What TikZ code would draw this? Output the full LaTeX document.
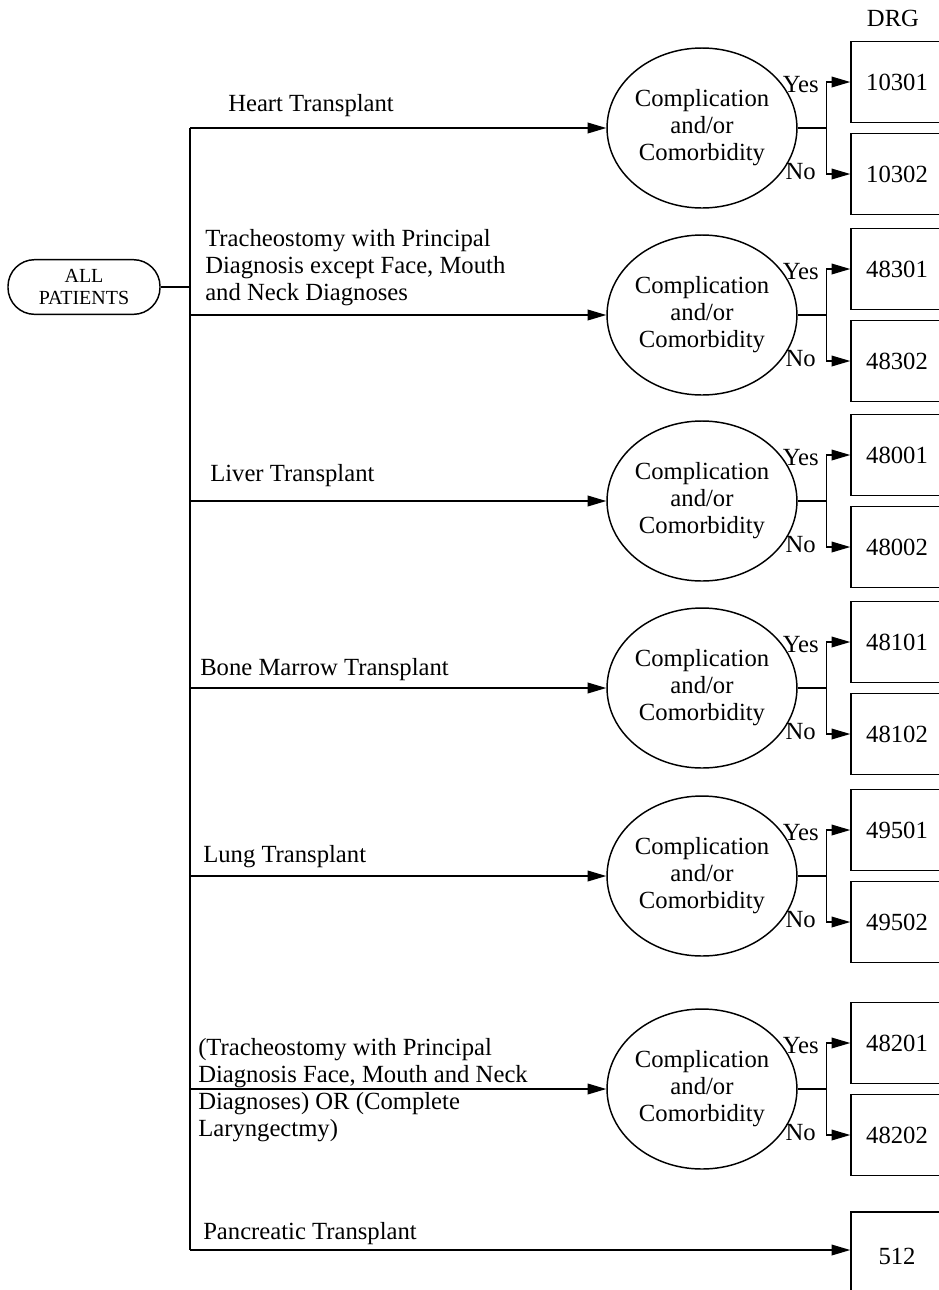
\documentclass[tikz,border=0pt]{standalone}
\usepackage{fontspec}
\setmainfont{Liberation Serif}
\usetikzlibrary{arrows.meta,shapes.geometric}

\tikzset{
  lbl/.style={font=\fontsize{18.5}{20.25}\selectfont, align=left, inner sep=0pt, anchor=west},
  cc/.style={draw, ellipse, line width=1.1pt, minimum width=136pt, minimum height=120pt,
             inner sep=0pt, align=center, font=\fontsize{18.5}{20.25}\selectfont},
  drg/.style={draw, rectangle, line width=1.1pt, minimum width=69pt, minimum height=60.75pt,
              inner sep=0pt, font=\fontsize{18.5}{20.25}\selectfont},
  wire/.style={line width=1.1pt},
  arr/.style={wire, -{Triangle[length=14pt,width=8pt]}}
}

\begin{document}
\begin{tikzpicture}[x=0.75pt, y=-0.75pt]

  \useasboundingbox (0,0) rectangle (939,1290);

  % ============================================================
  % Root and trunk
  % ============================================================
  \node[draw, line width=1.1pt, rounded corners=20pt, minimum width=114pt, minimum height=41pt,
        inner sep=0pt, align=center, font=\fontsize{15}{16}\selectfont]
        (all) at (84,287) {ALL\\PATIENTS};

  \coordinate (trtop) at (190,128);
  \coordinate (trbot) at (190,1250);
  \draw[wire] (trtop) -- (trbot);
  \draw[wire] (all.east) -- (all.east -| trtop);

  \node[font=\fontsize{18.5}{20.25}\selectfont] (drglbl) at (893,18) {DRG};

  % ============================================================
  % CC groups: \n = name, \y = centre row, \a/\b = DRG yes/no
  % ============================================================
  \foreach \n/\y/\a/\b in {1/128/10301/10302, 2/315/48301/48302, 3/501/48001/48002,
                           4/688/48101/48102, 5/876/49501/49502, 6/1089/48201/48202}{
    \node[cc] (c\n) at (702,\y) {Complication\\and/or\\Comorbidity};
    \node[drg] (by\n) at (897,\y-46) {\a};
    \node[drg] (bn\n) at (897,\y+46) {\b};

    \draw[arr] (c\n.west -| trtop) -- (c\n.west);
    \draw[wire] (c\n.east) -- ++(29,0) coordinate (s\n);
    \draw[arr] (s\n) |- (by\n.west);
    \draw[arr] (s\n) |- (bn\n.west);

    \node[lbl, anchor=east] (yes\n) at (819,\y-43) {Yes};
    \node[lbl, anchor=east] (no\n)  at (816,\y+44) {No};
  }

  % ============================================================
  % Branch labels
  % ============================================================
  \node[lbl] (l1) at (228,106) {Heart Transplant};
  \node[lbl] (l2) at (205,268) {Tracheostomy with Principal\\Diagnosis except Face, Mouth\\and Neck Diagnoses};
  \node[lbl] (l3) at (210,476) {Liver Transplant};
  \node[lbl] (l4) at (200,670) {Bone Marrow Transplant};
  \node[lbl] (l5) at (203,857) {Lung Transplant};
  \node[lbl] (l6) at (198,1090) {(Tracheostomy with Principal\\Diagnosis Face, Mouth and Neck\\Diagnoses) OR (Complete\\Laryngectmy)};
  \node[lbl] (l7) at (203,1234) {Pancreatic Transplant};

  % Pancreatic: no CC split
  \node[drg, minimum height=66pt] (b7) at (897,1256) {512};
  \draw[arr] (trbot) -- (trbot -| b7.west);

\end{tikzpicture}
\end{document}
